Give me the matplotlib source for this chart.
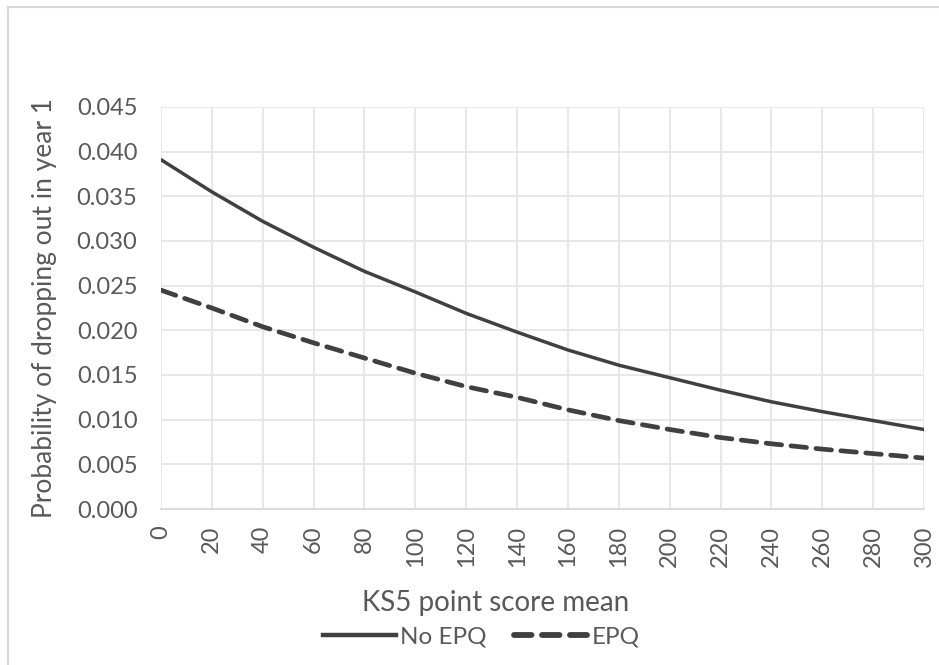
import matplotlib
matplotlib.use("Agg")
import matplotlib.pyplot as plt
from matplotlib.lines import Line2D

# Data
ks5_points = [0, 20, 40, 60, 80, 100, 120, 140, 160, 180, 200, 220, 240, 260, 280, 300]
no_epq = [0.0391, 0.0355, 0.0322, 0.0293, 0.0266, 0.0243, 0.0219, 0.0198,
          0.0178, 0.0161, 0.0147, 0.0133, 0.0120, 0.0109, 0.0099, 0.0089]
epq = [0.0245, 0.0225, 0.0204, 0.0186, 0.0169, 0.0152, 0.0137, 0.0125,
       0.0111, 0.0099, 0.0089, 0.0080, 0.0073, 0.0067, 0.0062, 0.0057]
y_ticks = [0.000, 0.005, 0.010, 0.015, 0.020, 0.025, 0.030, 0.035, 0.040, 0.045]
series_names = ["No EPQ", "EPQ"]
x_title = "KS5 point score mean"
y_title = "Probability of dropping out in year 1"

W, H = 939, 665
fig = plt.figure(figsize=(W / 100, H / 100), dpi=100)
plt.rcParams['font.family'] = ['Lato', 'DejaVu Sans']
txt = "#595959"
line_c = "#404040"
grid_c = "#e6e6e6"

ax = fig.add_axes([161 / W, 1 - 509 / H, (924 - 161) / W, (509 - 107) / H])
ax.plot(ks5_points, no_epq, color=line_c, lw=2.5, solid_capstyle='round')
ax.plot(ks5_points, epq, color=line_c, lw=3.4, dashes=(3.3, 2.0), dash_capstyle='round')

ax.set_xlim(0, 300)
ax.set_ylim(0, 0.045)
ax.set_xticks(ks5_points)
ax.set_xticklabels([str(v) for v in ks5_points], rotation=90, fontsize=17, color=txt)
ax.set_yticks(y_ticks)
ax.set_yticklabels([f"{v:.3f}" for v in y_ticks], fontsize=17, color=txt)
ax.tick_params(axis='y', length=0, pad=17)
ax.tick_params(axis='x', length=0, pad=12)
ax.grid(True, color=grid_c, lw=1.3)
ax.set_axisbelow(True)
for s in ['top', 'right', 'left']:
    ax.spines[s].set_visible(False)
ax.spines['bottom'].set_color("#d9d9d9")
ax.spines['bottom'].set_linewidth(1.3)

fig.text(496 / W, 1 - 603 / H, x_title, fontsize=20, color=txt, ha='center', va='center')
fig.text(45 / W, 1 - 308 / H, y_title, fontsize=19, color=txt, ha='center', va='center',
         rotation=90)

handles = [Line2D([], [], color=line_c, lw=3.2),
           Line2D([], [], color=line_c, lw=4.2, dashes=(3.0, 1.8), dash_capstyle='round')]
fig.legend(handles, series_names, loc='center', bbox_to_anchor=(481 / W, 1 - 637 / H),
           ncol=2, frameon=False, fontsize=17.5, labelcolor=txt, handlelength=3.0,
           handletextpad=0.2, columnspacing=1.1, borderpad=0, borderaxespad=0)

# chart area border (top and left)
fig.add_artist(Line2D([8 / W, 1], [1 - 7 / H, 1 - 7 / H], color="#d9d9d9", lw=1.5))
fig.add_artist(Line2D([8 / W, 8 / W], [0, 1 - 7 / H], color="#d9d9d9", lw=1.5))

fig.savefig("out.png", dpi=100, facecolor="white")
